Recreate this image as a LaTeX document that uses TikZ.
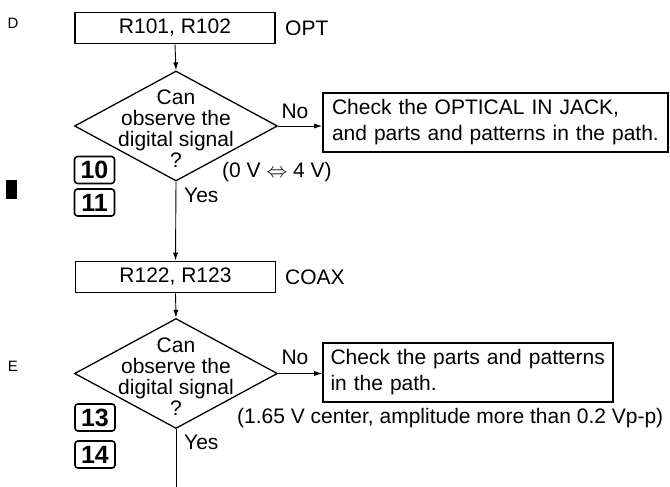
\documentclass[tikz,border=0pt]{standalone}
\usepackage{fontspec}
\setmainfont{Liberation Sans}
\usetikzlibrary{shapes.geometric,arrows.meta}
\begin{document}
\begin{tikzpicture}[x=1pt,y=-1pt,
  txt/.style={font=\fontsize{21}{21}\selectfont, inner sep=0pt},
  small/.style={font=\fontsize{15}{15}\selectfont, inner sep=0pt},
  rbox/.style={draw, line width=1.6pt, minimum width=200pt, minimum height=31pt, inner sep=0pt, font=\fontsize{21}{21}\selectfont},
  cbox/.style={draw, line width=1.6pt, minimum height=59pt, inner sep=0pt, align=left, font=\fontsize{21}{26}\selectfont},
  dia/.style={draw, shape=diamond, line width=1.3pt, minimum width=203pt, minimum height=110pt, inner sep=0pt},
  numbox/.style={draw, line width=1.6pt, rounded corners=3pt, minimum width=40pt, minimum height=27pt, inner sep=0pt, font=\fontsize{25}{25}\selectfont\bfseries},
  conn/.style={line width=0.9pt},
  arr/.style={conn, -{Latex[length=8pt,width=5pt]}}
]
\useasboundingbox (0,0) rectangle (670,487);

% first block
\node[small] (D) at (13,23) {D};
\node[rbox] (b1) at (175,28) {R101, R102};
\node[txt, anchor=west] (opt) at (285,28) {OPT};
\node[dia] (d1) at (176,126) {};
\node[txt, align=center] (q1) at (176,129) {Can\\observe the\\digital signal\\?};
\node[txt] (no1) at (295,111) {No};
\node[cbox, text width=327pt, minimum width=345pt] (c1) at (495.5,122.5) {Check the OPTICAL IN JACK,\\and parts and patterns in the path.};
\node[txt, anchor=west] (v1) at (222,172) {(0 V $\Leftrightarrow$ 4 V)};
\node[numbox] (n10) at (94.5,170) {10};
\node[numbox] (n11) at (94.5,202.5) {11};
\node[fill=black, minimum width=11pt, minimum height=19pt, inner sep=0pt] (mark) at (11.5,189.5) {};
\node[txt, anchor=west] (yes1) at (184,195) {Yes};

% second block
\node[rbox] (b2) at (175.5,277) {R122, R123};
\node[txt, anchor=west] (coax) at (285,277) {COAX};
\node[small] (E) at (13,366) {E};
\node[dia] (d2) at (176,373.5) {};
\node[txt, align=center] (q2) at (176,376.5) {Can\\observe the\\digital signal\\?};
\node[txt] (no2) at (295,357) {No};
\node[cbox, text width=275pt, minimum width=290pt] (c2) at (468,372.5) {Check the parts and patterns\\in the path.};
\node[txt, anchor=west] (v2) at (237,418) {(1.65 V center, amplitude more than 0.2 Vp-p)};
\node[numbox] (n13) at (95,417.5) {13};
\node[numbox] (n14) at (95,454.5) {14};
\node[txt, anchor=west] (yes2) at (184,442) {Yes};
\coordinate (end) at (176,487);

% connectors
\draw[arr] (b1.south) -- (d1.north);
\draw[arr] (d1.east) -- (d1.east -| c1.west);
\draw[arr] (d1.south) -- (b2.north);
\draw[arr] (b2.south) -- (d2.north);
\draw[arr] (d2.east) -- (d2.east -| c2.west);
\draw[conn] (d2.south) -- (end);
\end{tikzpicture}
\end{document}
